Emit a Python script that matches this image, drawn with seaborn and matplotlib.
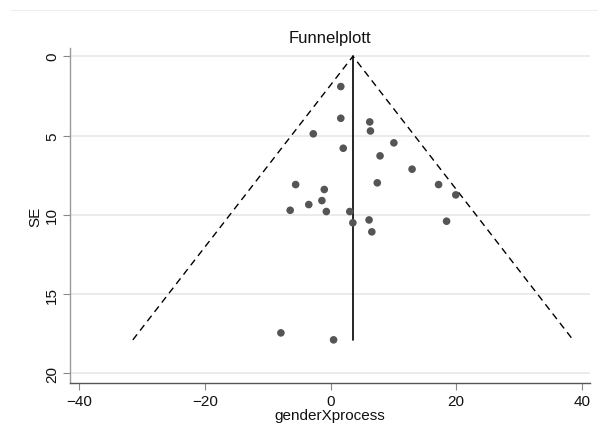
import numpy as np
import pandas as pd
import matplotlib
matplotlib.use("Agg")
import matplotlib.pyplot as plt
from matplotlib.lines import Line2D
import seaborn as sns

# Study estimates (genderXprocess effect) and their standard errors
effect = [1.62, 1.62, 6.23, 6.34, -2.76, 10.07, 2.01, 7.87, 12.97, -5.57,
          7.43, 17.19, -1.01, 19.93, -1.39, -3.48, -6.44, -0.68, 3.05, 3.54,
          6.12, 18.46, 6.56, -7.92, 0.47]
se = [1.91, 3.91, 4.14, 4.71, 4.89, 5.46, 5.80, 6.28, 7.12, 8.09,
      7.98, 8.09, 8.40, 8.74, 9.10, 9.35, 9.71, 9.79, 9.79, 10.50,
      10.32, 10.40, 11.07, 17.44, 17.88]
pooled = 3.55          # pooled effect estimate
z_crit = 1.96          # 95% pseudo-confidence limits

x_ticks = [-40, -20, 0, 20, 40]
y_ticks = [0, 5, 10, 15, 20]

df = pd.DataFrame({"genderXprocess": effect, "SE": se})
se_max = df["SE"].max()

sns.set_style("white")
plt.rcParams["font.family"] = ["Liberation Sans", "DejaVu Sans"]

fig = plt.figure(figsize=(5.98, 4.35), dpi=100)
ax = fig.add_axes([70 / 598, 1 - 384 / 435, 520 / 598, 335 / 435])

# horizontal grid at the SE ticks
for yv in y_ticks:
    ax.axhline(yv, color="#e9e9e9", lw=1.3, zorder=0)

# funnel limits and pooled estimate
ax.plot([pooled - z_crit * se_max, pooled, pooled + z_crit * se_max],
        [se_max, 0, se_max], color="black", lw=1.0, ls=(0, (5, 3.5)), zorder=2)
ax.plot([pooled, pooled], [0, se_max], color="black", lw=1.2, zorder=2)

sns.scatterplot(data=df, x="genderXprocess", y="SE", ax=ax, color="#555555",
                s=30, edgecolor="none", zorder=3)

ax.set_xlim(-41.5, 41.3)
ax.set_ylim(20.6, -0.52)
ax.set_xticks(x_ticks)
ax.set_yticks(y_ticks)
ax.tick_params(axis="both", which="major", length=5, width=0.8,
               color="#888888", labelsize=11, labelcolor="#111111", pad=3,
               left=True, bottom=True)
ax.tick_params(axis="y", labelrotation=90)
for lab in ax.get_yticklabels():
    lab.set_va("center")

for side in ["top", "right"]:
    ax.spines[side].set_visible(False)
ax.spines["left"].set_color("#9a9a9a")
ax.spines["left"].set_linewidth(1.0)
ax.spines["bottom"].set_color("#555555")
ax.spines["bottom"].set_linewidth(1.0)

ax.set_xlabel("genderXprocess", fontsize=11, color="#111111", labelpad=0)
ax.set_ylabel("SE", fontsize=11, color="#111111", labelpad=2)
ax.set_title("Funnelplott", fontsize=12, color="#111111", pad=4)

# thin rule across the top of the canvas
fig.add_artist(Line2D([11 / 598, 1], [1 - 11 / 435, 1 - 11 / 435],
                      transform=fig.transFigure, color="#eeeeee", lw=0.8))

fig.savefig("out.png", dpi=100, facecolor="white")
